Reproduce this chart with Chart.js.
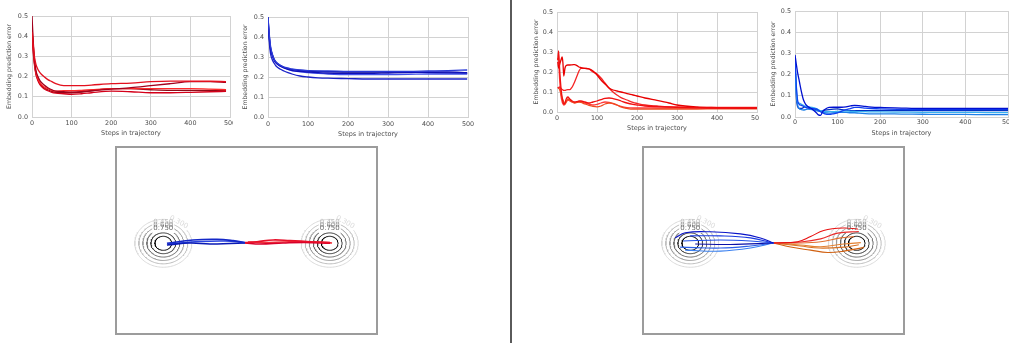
<!DOCTYPE html>
<html>
<head>
<meta charset="utf-8">
<script src="https://cdn.jsdelivr.net/npm/chart.js@4.4.1/dist/chart.umd.min.js"></script>
<style>
  html, body { margin: 0; padding: 0; background: #fff; }
  body { width: 1009px; height: 343px; position: relative; overflow: hidden; }
  canvas { position: absolute; }
  .box { position: absolute; top: 146px; width: 263px; height: 189px; border: 2px solid #9c9c9c; box-sizing: border-box; }
  .box canvas { left: 0; top: 0; }
  #sep { position: absolute; left: 510px; top: 0; width: 2px; height: 343px; background: #5a5a5a; }
</style>
</head>
<body>
<canvas id="c1" width="233" height="141" style="left:0;top:0"></canvas>
<canvas id="c2" width="240" height="141" style="left:238px;top:0"></canvas>
<canvas id="c3" width="230" height="136" style="left:529px;top:0"></canvas>
<canvas id="c4" width="243" height="141" style="left:766px;top:0"></canvas>
<div class="box" style="left:115px"><canvas id="b1" width="259" height="185"></canvas></div>
<div class="box" style="left:642px"><canvas id="b2" width="259" height="185"></canvas></div>
<div id="sep"></div>
<script>
// ---- top-left pair (smooth runs) ----
const steps1 = [0, 3, 6, 10, 15, 20, 30, 40, 50, 60, 80, 100, 125, 150, 200, 250, 300, 350, 400, 450, 490];
const redA = [0.42,0.36,0.30,0.26,0.235,0.22,0.20,0.185,0.175,0.165,0.155,0.155,0.155,0.158,0.165,0.168,0.175,0.178,0.177,0.177,0.175];
const redB = [0.50,0.38,0.29,0.23,0.20,0.18,0.16,0.145,0.135,0.128,0.125,0.123,0.125,0.13,0.138,0.145,0.155,0.165,0.175,0.175,0.172];
const redC = [0.45,0.36,0.28,0.22,0.19,0.17,0.15,0.14,0.132,0.128,0.13,0.13,0.132,0.135,0.14,0.14,0.14,0.14,0.14,0.138,0.135];
const redD = [0.40,0.32,0.26,0.21,0.18,0.16,0.14,0.13,0.122,0.118,0.115,0.112,0.115,0.12,0.128,0.125,0.12,0.12,0.122,0.125,0.127];
const redE = [0.43,0.34,0.27,0.215,0.185,0.165,0.145,0.135,0.127,0.122,0.12,0.12,0.123,0.13,0.14,0.14,0.135,0.132,0.132,0.132,0.132];

const steps2 = [0, 3, 6, 10, 15, 20, 30, 40, 50, 60, 80, 100, 125, 150, 200, 250, 300, 350, 400, 450, 498];
const blueA = [0.50,0.42,0.36,0.32,0.29,0.275,0.26,0.25,0.245,0.24,0.235,0.232,0.23,0.23,0.228,0.228,0.228,0.228,0.23,0.232,0.235];
const blueB = [0.48,0.40,0.34,0.31,0.285,0.27,0.255,0.245,0.238,0.232,0.228,0.225,0.222,0.22,0.218,0.218,0.22,0.222,0.225,0.225,0.222];
const blueC = [0.49,0.41,0.35,0.315,0.288,0.272,0.256,0.246,0.238,0.232,0.226,0.222,0.218,0.215,0.212,0.212,0.212,0.213,0.215,0.215,0.215];
const blueD = [0.47,0.38,0.32,0.29,0.27,0.255,0.24,0.23,0.222,0.215,0.205,0.20,0.196,0.194,0.192,0.19,0.19,0.19,0.19,0.19,0.19];
const blueE = [0.50,0.41,0.35,0.318,0.29,0.274,0.258,0.248,0.242,0.237,0.233,0.23,0.228,0.227,0.225,0.225,0.225,0.224,0.222,0.22,0.218];

// ---- top-right pair (noisy runs) ----
const steps3 = [2,4,7,10,13,15,17,20,23,27,32,38,44,50,55,60,70,80,90,100,110,120,130,140,150,160,175,190,200,220,250,280,300,350,400,450,500];
const red3A = [0.26,0.305,0.2,0.12,0.07,0.05,0.04,0.045,0.065,0.075,0.065,0.055,0.05,0.052,0.055,0.055,0.05,0.045,0.05,0.055,0.062,0.068,0.07,0.067,0.062,0.055,0.045,0.038,0.035,0.03,0.027,0.025,0.023,0.021,0.02,0.02,0.02];
const red3B = [0.25,0.22,0.24,0.26,0.275,0.24,0.18,0.22,0.233,0.235,0.235,0.236,0.237,0.232,0.225,0.222,0.218,0.216,0.205,0.185,0.16,0.14,0.12,0.11,0.105,0.1,0.092,0.085,0.08,0.07,0.058,0.045,0.035,0.025,0.022,0.02,0.02];
const red3C = [0.125,0.12,0.125,0.118,0.112,0.11,0.108,0.108,0.11,0.112,0.112,0.125,0.15,0.18,0.205,0.218,0.218,0.215,0.2,0.19,0.17,0.145,0.12,0.1,0.085,0.072,0.06,0.048,0.043,0.035,0.03,0.026,0.025,0.022,0.02,0.02,0.02];
const red3D = [0.12,0.12,0.11,0.09,0.07,0.06,0.05,0.04,0.05,0.065,0.06,0.05,0.045,0.048,0.05,0.048,0.04,0.033,0.028,0.026,0.03,0.04,0.045,0.043,0.035,0.025,0.018,0.014,0.014,0.014,0.015,0.015,0.015,0.015,0.016,0.016,0.016];
const red3E = [0.27,0.25,0.15,0.08,0.05,0.04,0.035,0.04,0.05,0.06,0.055,0.05,0.047,0.05,0.052,0.05,0.045,0.04,0.035,0.038,0.045,0.05,0.048,0.042,0.035,0.028,0.022,0.02,0.02,0.02,0.02,0.02,0.02,0.022,0.023,0.023,0.023];

const steps4 = [0,3,6,10,15,20,25,30,40,50,55,60,65,70,80,90,100,110,120,130,140,150,165,180,200,250,300,350,400,450,500];
const blue4A = [0.293,0.25,0.21,0.17,0.12,0.08,0.06,0.05,0.038,0.02,0.01,0.008,0.025,0.035,0.045,0.046,0.046,0.046,0.048,0.052,0.055,0.054,0.05,0.047,0.045,0.042,0.04,0.04,0.04,0.04,0.04];
const blue4B = [0.27,0.15,0.08,0.06,0.055,0.05,0.045,0.042,0.04,0.038,0.032,0.025,0.02,0.015,0.012,0.015,0.02,0.028,0.035,0.04,0.045,0.045,0.042,0.04,0.038,0.036,0.035,0.035,0.035,0.036,0.036];
const blue4C = [0.25,0.12,0.07,0.065,0.06,0.055,0.05,0.047,0.045,0.04,0.035,0.03,0.028,0.025,0.025,0.025,0.027,0.028,0.028,0.027,0.026,0.025,0.025,0.024,0.024,0.023,0.022,0.022,0.022,0.021,0.021];
const blue4D = [0.26,0.14,0.06,0.04,0.035,0.033,0.035,0.037,0.035,0.03,0.028,0.025,0.022,0.02,0.018,0.02,0.022,0.022,0.022,0.02,0.02,0.018,0.016,0.015,0.015,0.014,0.013,0.012,0.012,0.011,0.011];
const blue4E = [0.28,0.1,0.05,0.04,0.04,0.045,0.05,0.048,0.04,0.035,0.03,0.028,0.03,0.032,0.035,0.037,0.038,0.035,0.032,0.03,0.03,0.03,0.03,0.03,0.03,0.03,0.03,0.03,0.03,0.03,0.03];

const xTicks = [0, 100, 200, 300, 400, 500];
const yTicks = [0.0, 0.1, 0.2, 0.3, 0.4, 0.5];

// ---- bottom panels: two wells and the paths between them ----
const wellX = [-1, 1];
const levels = [0.3, 0.45, 0.6, 0.75, 0.9, 1.05];
const labeledLevels = [0.3, 0.45, 0.6, 0.75];
const peak = 1.36, slope = 3.1;   // field falls off linearly from each well centre

const leftBlue = [
  [[-0.956,0],[-0.643,0.048],[-0.355,0.058],[-0.162,0.038],[-0.018,0.009]],
  [[-0.956,-0.025],[-0.679,0.004],[-0.439,-0.01],[-0.198,-0.003],[-0.018,0.004]],
  [[-0.944,-0.01],[-0.559,0.026],[-0.258,0.033],[-0.018,0.012]]
];
const leftRed = [
  [[-0.018,0.009],[0.126,0.023],[0.319,0.048],[0.523,0.038],[0.763,0.023],[1.004,0.009]],
  [[-0.018,0.004],[0.162,-0.01],[0.439,0.004],[0.703,0.012],[1.004,0]],
  [[0.018,0.019],[0.282,0.012],[0.583,0.026],[0.883,0.019],[1.028,0.004]]
];
const rightBlue = [
  [[-1.182,0.077],[-1.061,0.15],[-0.76,0.164],[-0.398,0.135],[-0.157,0.077],[0,0.004]],
  [[-1.001,0.106],[-0.639,0.106],[-0.277,0.077],[0,0.004]],
  [[-1.086,0.033],[-0.639,0.048],[-0.277,0.033],[0,0.004]],
  [[-0.941,-0.01],[-0.519,-0.017],[0,0.004]],
  [[-1.122,-0.054],[-0.639,-0.068],[-0.277,-0.039],[0,0.004]],
  [[-1.061,-0.097],[-0.639,-0.112],[-0.277,-0.068],[0,0.004]]
];
const rightRed = [
  [[0,0.004],[0.29,0.023],[0.446,0.096],[0.603,0.183],[0.844,0.218],[1.013,0.203]],
  [[0,0.004],[0.326,0.019],[0.567,0.063],[0.772,0.145],[1.025,0.169]],
  [[0,0.004],[0.326,0.004],[0.567,0.023],[0.808,0.077],[0.965,0.096]],
  [[0,0.004],[0.326,-0.025],[0.567,-0.049],[0.844,-0.01],[1.049,0.009]],
  [[0,0.004],[0.326,-0.039],[0.55,-0.068],[0.844,-0.054],[1.025,-0.02]],
  [[0,0.004],[0.205,-0.054],[0.446,-0.097],[0.651,-0.131],[0.844,-0.112],[1.086,-0.058]]
];

const FONT = '"DejaVu Sans", sans-serif';
const GRID = '#d2d2d2';
const TEXT = '#4d4d4d';

function lineChart(id, steps, series, colors, lay) {
  new Chart(document.getElementById(id), {
    type: 'line',
    data: {
      datasets: series.map((vals, i) => ({
        data: steps.map((s, k) => ({ x: s, y: vals[k] })),
        borderColor: colors[i],
        borderWidth: 1.3,
        pointRadius: 0,
        cubicInterpolationMode: 'monotone',
        fill: false
      }))
    },
    options: {
      responsive: false,
      animation: false,
      events: [],
      layout: { padding: { top: lay.top, right: lay.right, left: 0, bottom: 0 } },
      plugins: { legend: { display: false }, tooltip: { enabled: false } },
      scales: {
        x: {
          type: 'linear', min: 0, max: 500,
          afterBuildTicks: s => { s.ticks = xTicks.map(v => ({ value: v })); },
          ticks: { font: { family: FONT, size: 6.4 }, color: TEXT, padding: lay.xPad, maxRotation: 0, autoSkip: false },
          grid: { color: GRID, lineWidth: 1, drawTicks: false },
          border: { color: GRID },
          title: { display: true, text: 'Steps in trajectory', font: { family: FONT, size: 6.5 }, color: TEXT, padding: { top: 0, bottom: lay.titlePad } },
          afterFit: s => { s.height = 24; s.paddingLeft = 0; s.paddingRight = 0; }
        },
        y: {
          min: 0, max: 0.5,
          afterBuildTicks: s => { s.ticks = yTicks.map(v => ({ value: v })); },
          ticks: { font: { family: FONT, size: 6.4 }, color: TEXT, padding: 4, callback: v => v.toFixed(1) },
          grid: { color: GRID, lineWidth: 1, drawTicks: false },
          border: { color: GRID },
          title: { display: true, text: 'Embedding prediction error', font: { family: FONT, size: 6.2 }, color: TEXT, padding: { top: lay.yTitlePad, bottom: 0 } },
          afterFit: s => { s.width = lay.yWidth; s.paddingTop = 0; s.paddingBottom = 0; }
        }
      }
    }
  });
}

lineChart('c1', steps1, [redA, redB, redC, redD, redE],
  ['#e3101e', '#a3001c', '#ff2a2a', '#d4001a', '#8c0a18'],
  { top: 16, right: 3, yWidth: 32, yTitlePad: 6, xPad: 3, titlePad: 4 });
lineChart('c2', steps2, [blueA, blueB, blueC, blueD, blueE],
  ['#2a3ad8', '#1010b8', '#4050e8', '#1a22c8', '#00008c'],
  { top: 17, right: 10, yWidth: 30, yTitlePad: 4, xPad: 4, titlePad: 3 });
lineChart('c3', steps3, [red3A, red3B, red3C, red3D, red3E],
  ['#f01010', '#e80000', '#f52525', '#f04a20', '#ff3a3a'],
  { top: 12, right: 2, yWidth: 28, yTitlePad: 4, xPad: 2.5, titlePad: 4 });
lineChart('c4', steps4, [blue4A, blue4B, blue4C, blue4D, blue4E],
  ['#0010d0', '#1040f0', '#38b0f0', '#2080e8', '#0030c0'],
  { top: 11, right: 1, yWidth: 29, yTitlePad: 4, xPad: 2, titlePad: 4 });

// ---- contour panels ----
const RING_COLORS = ['#dadada', '#bcbcbc', '#9a9a9a', '#6c6c6c', '#363636', '#000000'];
const PX_PER_UNIT = 83;
const LABEL_HALF = 10.5;

function ringRadius(level) { return (peak - level) / slope; }
function labelAngle(level) { return level === 0.3 ? 57 : 90; }

function ringPoints(cx, level) {
  const r = ringRadius(level);
  const labeled = labeledLevels.includes(level);
  const half = labeled ? Math.asin(Math.min(1, LABEL_HALF / (r * PX_PER_UNIT))) * 180 / Math.PI : 0;
  const mid = labelAngle(level);
  const pts = [];
  for (let a = 0; a <= 360; a += 3) {
    const d = Math.abs(((a - mid) % 360 + 540) % 360 - 180);
    const t = a * Math.PI / 180;
    pts.push({ x: cx + r * Math.cos(t), y: (labeled && d < half) ? null : r * Math.sin(t) });
  }
  return pts;
}

const contourLabels = {
  id: 'contourLabels',
  afterDatasetsDraw(chart) {
    const { ctx, scales: { x, y } } = chart;
    ctx.save();
    ctx.font = '7px ' + FONT;
    ctx.textAlign = 'center';
    ctx.textBaseline = 'middle';
    wellX.forEach(cx => {
      labeledLevels.forEach(L => {
        const r = ringRadius(L);
        const a = labelAngle(L) * Math.PI / 180;
        const px = x.getPixelForValue(cx + r * Math.cos(a));
        const py = y.getPixelForValue(r * Math.sin(a)) - 1;
        const rx = x.getPixelForValue(cx + r) - x.getPixelForValue(cx);
        const ry = y.getPixelForValue(0) - y.getPixelForValue(r);
        const rot = Math.atan2(ry * Math.cos(a), rx * Math.sin(a));
        ctx.save();
        ctx.translate(px, py);
        ctx.rotate(rot);
        ctx.fillStyle = RING_COLORS[levels.indexOf(L)];
        ctx.fillText(L.toFixed(3), 0, 0);
        ctx.restore();
      });
    });
    ctx.restore();
  }
};

function wellChart(id, blues, reds, blueColors, redColors, width) {
  const paths = [];
  blues.forEach((p, i) => paths.push({ data: p.map(q => ({ x: q[0], y: q[1] })), borderColor: blueColors[i % blueColors.length] }));
  reds.forEach((p, i) => paths.push({ data: p.map(q => ({ x: q[0], y: q[1] })), borderColor: redColors[i % redColors.length] }));
  const rings = [];
  wellX.forEach(cx => levels.forEach((L, i) => rings.push({
    data: ringPoints(cx, L), borderColor: RING_COLORS[i], borderWidth: 1, tension: 0
  })));
  new Chart(document.getElementById(id), {
    type: 'scatter',
    data: {
      datasets: paths.map(d => Object.assign(d, { borderWidth: width, tension: 0.4 })).concat(rings)
        .map(d => Object.assign(d, { showLine: true, pointRadius: 0, spanGaps: false, fill: false }))
    },
    options: {
      responsive: false,
      animation: false,
      events: [],
      layout: { padding: 0 },
      plugins: { legend: { display: false }, tooltip: { enabled: false } },
      scales: {
        x: { display: false, min: -1.556, max: 1.556 },
        y: { display: false, min: -1.281, max: 1.361 }
      }
    },
    plugins: [contourLabels]
  });
}

wellChart('b1', leftBlue, leftRed, ['#1428c8', '#0a1ab4', '#2a44e0'], ['#e8102a', '#d8002a', '#f0303a'], 1.6);
wellChart('b2', rightBlue, rightRed,
  ['#0a14c8', '#1838e0', '#2050e8', '#0a10a8', '#2a60e8', '#3a80f0'],
  ['#e81010', '#ea2a2a', '#e07030', '#e38030', '#d87020', '#d06010'], 1.1);
</script>
</body>
</html>
